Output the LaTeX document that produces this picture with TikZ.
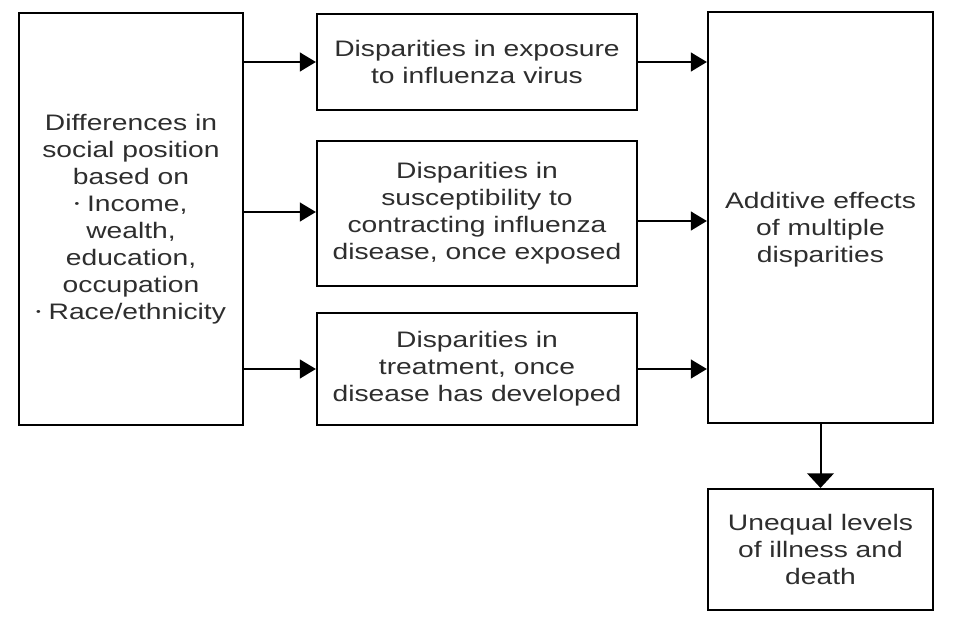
\documentclass[tikz,border=0pt]{standalone}
\usepackage{fontspec}
\setmainfont{Liberation Sans}[FakeStretch=1.26]
\usetikzlibrary{arrows.meta}
\definecolor{txt}{HTML}{2E2E2E}
\newcommand{\smbul}{\raisebox{0.3ex}{\footnotesize\textbullet}}
\tikzset{
  box/.style={draw=black, line width=1.6pt, rectangle, inner sep=0pt, align=center,
    text=txt, font=\fontsize{16.8}{20.25}\selectfont},
  lbl/.style={inner sep=0pt, align=center, text=txt, font=\fontsize{16.8}{20.25}\selectfont},
  arr/.style={draw=black, line width=1.5pt, -{Triangle[length=12pt,width=14pt]}},
  darr/.style={draw=black, line width=1.5pt, -{Triangle[length=11pt,width=20pt]}}
}
\begin{document}
\begin{tikzpicture}[x=0.75pt,y=-0.75pt]
\useasboundingbox (0,0) rectangle (961,628);
\fill[white] (0,0) rectangle (961,628);
\node[box, minimum width=224pt*0.75, minimum height=412pt*0.75] (soc) at (131,219)
  {Differences in\\social position\\based on\\\smbul\ Income,\\wealth,\\education,\\occupation\\\smbul\ Race/ethnicity};
\node[box, minimum width=320pt*0.75, minimum height=96pt*0.75] (b1) at (477,62)
  {Disparities in exposure\\to influenza virus};
\node[box, minimum width=320pt*0.75, minimum height=145pt*0.75] (b2) at (477,213.5)
  {Disparities in\\susceptibility to\\contracting influenza\\disease, once exposed};
\node[box, minimum width=320pt*0.75, minimum height=112pt*0.75] (b3) at (477,369)
  {Disparities in\\treatment, once\\disease has developed};
\node[box, minimum width=225pt*0.75, minimum height=411pt*0.75] (eff) at (820.5,217.5) {};
\node[lbl] (efftxt) at (820.5,230) {Additive effects\\of multiple\\disparities};
\node[box, minimum width=225pt*0.75, minimum height=121pt*0.75] (out) at (820.5,549.5)
  {Unequal levels\\of illness and\\death};
\draw[arr] (soc.east |- b1.center) -- (b1.west);
\draw[arr] (soc.east |- 0,212) -- (b2.west |- 0,212);
\draw[arr] (soc.east |- b3.center) -- (b3.west);
\draw[arr] (b1.east) -- (eff.west |- b1.center);
\draw[arr] (b2.east |- 0,221) -- (eff.west |- 0,221);
\draw[arr] (b3.east) -- (eff.west |- b3.center);
\draw[darr] (eff.south) -- (out.north);
\end{tikzpicture}
\end{document}
